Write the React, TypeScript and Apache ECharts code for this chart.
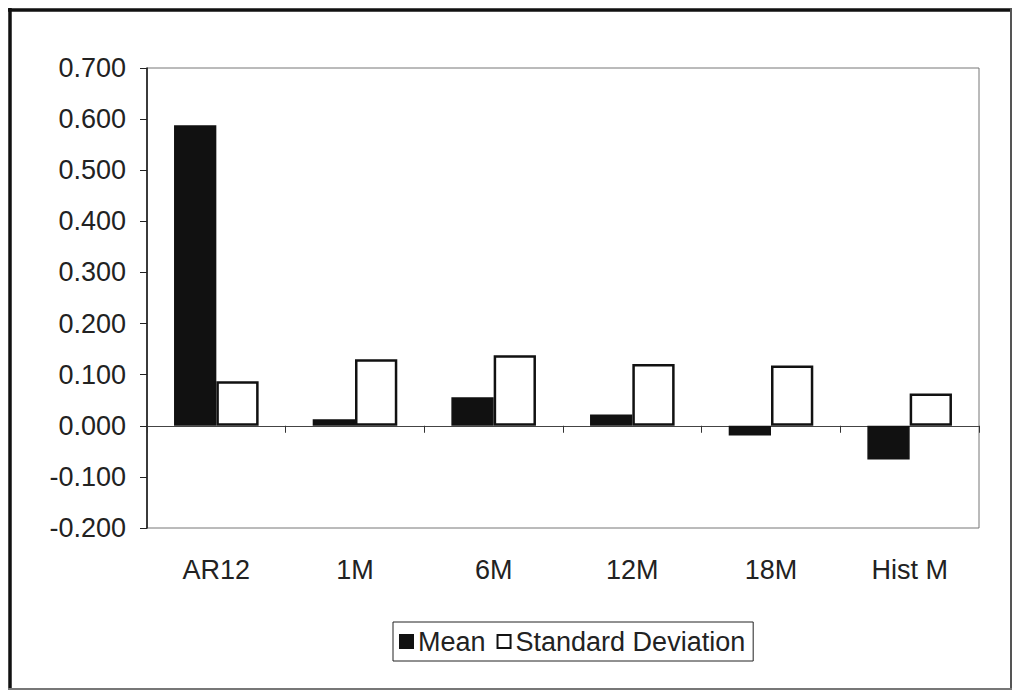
import React, { useEffect, useRef } from "react";
import * as echarts from "echarts";

const categories = ["AR12", "1M", "6M", "12M", "18M", "Hist M"];
const meanValues = [0.588, 0.013, 0.056, 0.022, -0.019, -0.066];
const stdValues = [0.087, 0.130, 0.138, 0.121, 0.118, 0.063];
const seriesNames = ["Mean", "Standard Deviation"];

export default function App() {
  const ref = useRef<HTMLDivElement>(null);
  useEffect(() => {
    if (!ref.current) return;
    const chart = echarts.init(ref.current, null, { renderer: "svg" });
    const font = "'Liberation Sans', Arial, sans-serif";
    chart.setOption({
      animation: false,
      backgroundColor: "#ffffff",
      textStyle: { fontFamily: font },
      grid: {
        left: 147,
        right: 35,
        top: 68,
        bottom: 164,
        show: true,
        borderColor: "#777",
        borderWidth: 1,
        backgroundColor: "transparent",
      },
      legend: {
        left: 393,
        top: 622,
        orient: "horizontal",
        padding: [6, 8, 6, 6],
        itemWidth: 13,
        itemHeight: 13,
        itemGap: 11,
        borderColor: "#222",
        borderWidth: 1,
        icon: "rect",
        textStyle: { fontSize: 27, color: "#222", fontFamily: font },
        data: seriesNames,
      },
      xAxis: [
        {
          type: "category",
          data: categories,
          axisLine: { onZero: true, lineStyle: { color: "#444", width: 1 } },
          axisTick: { show: true, length: 7, lineStyle: { color: "#333" } },
          axisLabel: { show: false },
        },
        {
          type: "category",
          data: categories,
          position: "bottom",
          axisLine: { show: false, onZero: false },
          axisTick: { show: false },
          axisLabel: { margin: 28, fontSize: 27, color: "#222", fontFamily: font },
        },
      ],
      yAxis: {
        type: "value",
        min: -0.2,
        max: 0.7,
        interval: 0.1,
        splitLine: { show: false },
        axisLine: { show: true, lineStyle: { color: "#111", width: 1.5 } },
        axisTick: { show: true, length: 7, lineStyle: { color: "#222" } },
        axisLabel: {
          margin: 21,
          fontSize: 27,
          color: "#222",
          fontFamily: font,
          formatter: (v: number) => v.toFixed(3),
        },
      },
      series: [
        {
          name: seriesNames[0],
          type: "bar",
          xAxisIndex: 0,
          data: meanValues,
          barGap: "0%",
          barCategoryGap: "39%",
          itemStyle: { color: "#111", borderColor: "#111", borderWidth: 1.5 },
        },
        {
          name: seriesNames[1],
          type: "bar",
          xAxisIndex: 0,
          data: stdValues,
          barGap: "0%",
          barCategoryGap: "39%",
          itemStyle: { color: "#ffffff", borderColor: "#111", borderWidth: 2.5 },
        },
      ],
      graphic: [
        { type: "line", shape: { x1: 10, y1: 8, x2: 10, y2: 690 }, style: { stroke: "#111", lineWidth: 3.5 } },
        { type: "line", shape: { x1: 8, y1: 10, x2: 1012, y2: 10 }, style: { stroke: "#111", lineWidth: 3.5 } },
        { type: "line", shape: { x1: 1011, y1: 8, x2: 1011, y2: 690 }, style: { stroke: "#555", lineWidth: 2 } },
        { type: "line", shape: { x1: 8, y1: 689, x2: 1012, y2: 689 }, style: { stroke: "#777", lineWidth: 2 } },
      ],
    });
    return () => chart.dispose();
  }, []);
  return (
    <div
      ref={ref}
      style={{ position: "absolute", left: 0, top: 0, width: 1014, height: 692 }}
    />
  );
}
